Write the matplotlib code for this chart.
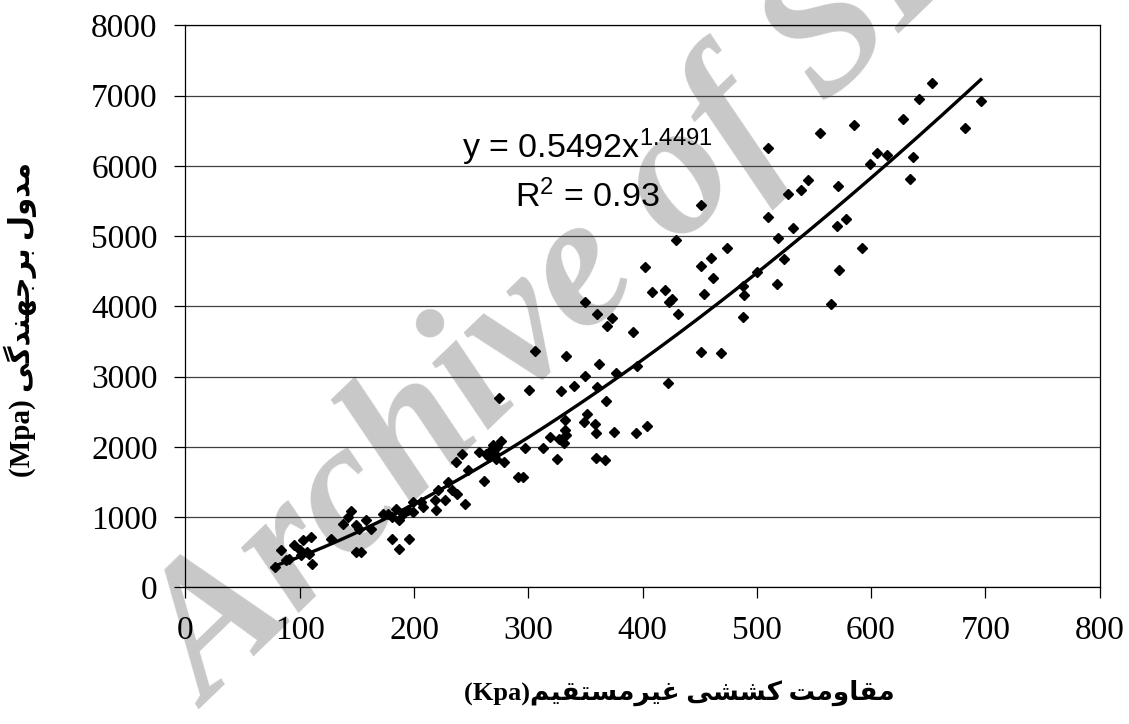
import numpy as np
import matplotlib

matplotlib.use("Agg")
import matplotlib.pyplot as plt

# indirect tensile strength (Kpa) vs resilient modulus (Mpa)
strength_kpa = [
    78, 84, 88, 91, 95, 100, 101, 103, 106, 108, 110, 111, 127, 138, 142, 145,
    149, 154, 149, 152, 158, 162, 173, 177, 181, 181, 187, 196, 184, 190, 195,
    199, 187, 199, 208, 206, 219, 218, 221, 227, 233, 238, 230, 245, 237, 242,
    247, 261,
    257, 263, 266, 267, 269, 272, 273, 276, 279, 271,
    274, 291, 295, 297, 313, 319, 301,
    327, 331, 332, 333, 332, 329, 340, 350, 362,
    325, 359, 367,
    351, 349, 358, 359, 375,
    360, 368, 377, 395,
    306, 333,
    350, 360, 373, 369, 392,
    408, 420, 426, 423, 431, 429, 402,
    422, 394, 404,
    454, 451, 469, 451, 474, 460, 451, 462, 488, 489, 488,
    653, 642, 696, 628, 585, 555, 682, 510, 605, 614, 599, 637, 634, 571,
    545, 539, 527, 510, 532, 570, 578, 519, 524, 500, 592, 572, 565, 518,
]
modulus_mpa = [
    289, 527, 385, 409, 598, 527, 456, 670, 503, 480, 717, 338, 694, 907, 1000, 1080,
    503, 503, 883, 836, 954, 836, 1050, 1050, 1001, 694, 551, 694, 1121, 1050, 1097,
    1215, 954, 1073, 1144, 1215, 1097, 1239, 1382, 1239, 1382, 1335, 1500, 1182, 1785, 1895,
    1667, 1510,
    1927, 1904, 1856, 1952, 2023, 1833, 1999, 2085, 1785, 1905,
    2697, 1571, 1565, 1990, 1984, 2141, 2806,
    2118, 2056, 2236, 2165, 2379, 2792, 2868, 3006, 3186,
    1823, 1842, 1809,
    2474, 2355, 2332, 2198, 2212,
    2853, 2650, 3058, 3148,
    3366, 3291,
    4064, 3885, 3828, 3722, 3628,
    4198, 4231, 4098, 4064, 3885, 4943, 4563,
    2910, 2199, 2297,
    4170, 3352, 3329, 5442, 4824, 4682, 4577, 4397, 4292, 4160, 3842,
    7175, 6947, 6928, 6662, 6577, 6472, 6534, 6249, 6178, 6150, 6026, 6130, 5812, 5717,
    5798, 5655, 5594, 5275, 5109, 5147, 5246, 4976, 4668, 4492, 4824, 4520, 4031, 4312,
]

# power trendline as printed on the chart
FIT_A = 0.5492
FIT_B = 1.4491
FIT_R2 = "0.93"

x_ticks = [0, 100, 200, 300, 400, 500, 600, 700, 800]
y_ticks = [0, 1000, 2000, 3000, 4000, 5000, 6000, 7000, 8000]

# Persian labels, written in visual order with Arabic presentation forms
XLABEL = ("(Kpa)"
          "\uFEE2\uFBFF\uFED8\uFE98\uFEB4\uFEE3\uFEAE\uFBFF\uFECF"
          " \uFBFD\uFEB8\uFEB8\uFB90"
          " \uFE96\uFEE3\uFEED\uFE8E\uFED8\uFEE3")
YLABEL = ("(Mpa) "
          "\uFBFD\uFB94\uFEAA\uFEE8\uFEEC\uFE9F\uFEAE\uFE91"
          " \uFEDD\uFEED\uFEAA\uFEE3")

plt.rcParams["mathtext.fontset"] = "custom"
plt.rcParams["mathtext.rm"] = "Liberation Sans"
plt.rcParams["mathtext.it"] = "Liberation Sans:italic"

fig = plt.figure(figsize=(11.29, 7.24), dpi=100)
ax = fig.add_axes([0.1643, 0.1888, 0.8096, 0.7761])

# watermark
ax.text(0.531, 0.630, "Archive of SID", transform=fig.transFigure,
        family="Liberation Serif", style="italic", weight="bold",
        fontsize=136, color="#c8c8c8", rotation=44, rotation_mode="anchor",
        ha="center", va="center", zorder=1.2, clip_on=False)

ax.plot(strength_kpa, modulus_mpa, "D", color="black", ms=5.2, zorder=3)

xs = np.linspace(min(strength_kpa), max(strength_kpa), 200)
ax.plot(xs, FIT_A * xs ** FIT_B, color="black", lw=2.4, zorder=2.5)

ax.text(352, 6109, r"y = 0.5492$\mathrm{x}^{1.4491}$", family="Liberation Sans",
        fontsize=24.5, ha="center", va="baseline", zorder=4)
ax.text(352, 5420, r"R$^{2}$ = " + FIT_R2, family="Liberation Sans",
        fontsize=24.5, ha="center", va="baseline", zorder=4)

ax.set_xlim(0, 800)
ax.set_ylim(0, 8000)
ax.set_xticks(x_ticks)
ax.set_yticks(y_ticks)
ax.tick_params(direction="out", length=8, width=0.9, pad=12, labelsize=24)
for lab in ax.get_xticklabels() + ax.get_yticklabels():
    lab.set_family("Liberation Serif")

ax.yaxis.grid(True, color="#404040", lw=0.9)
for sp in ax.spines.values():
    sp.set_color("black")
    sp.set_linewidth(0.9)

ax.set_xlabel(XLABEL, family=["Liberation Serif", "DejaVu Sans"], weight="bold",
              fontsize=19)
ax.xaxis.set_label_coords(0.54, -0.165)
ax.set_ylabel(YLABEL, family=["Liberation Serif", "DejaVu Sans"], weight="bold",
              fontsize=21)
ax.yaxis.set_label_coords(-0.1625, 0.476)

fig.savefig("out.png", dpi=100)
